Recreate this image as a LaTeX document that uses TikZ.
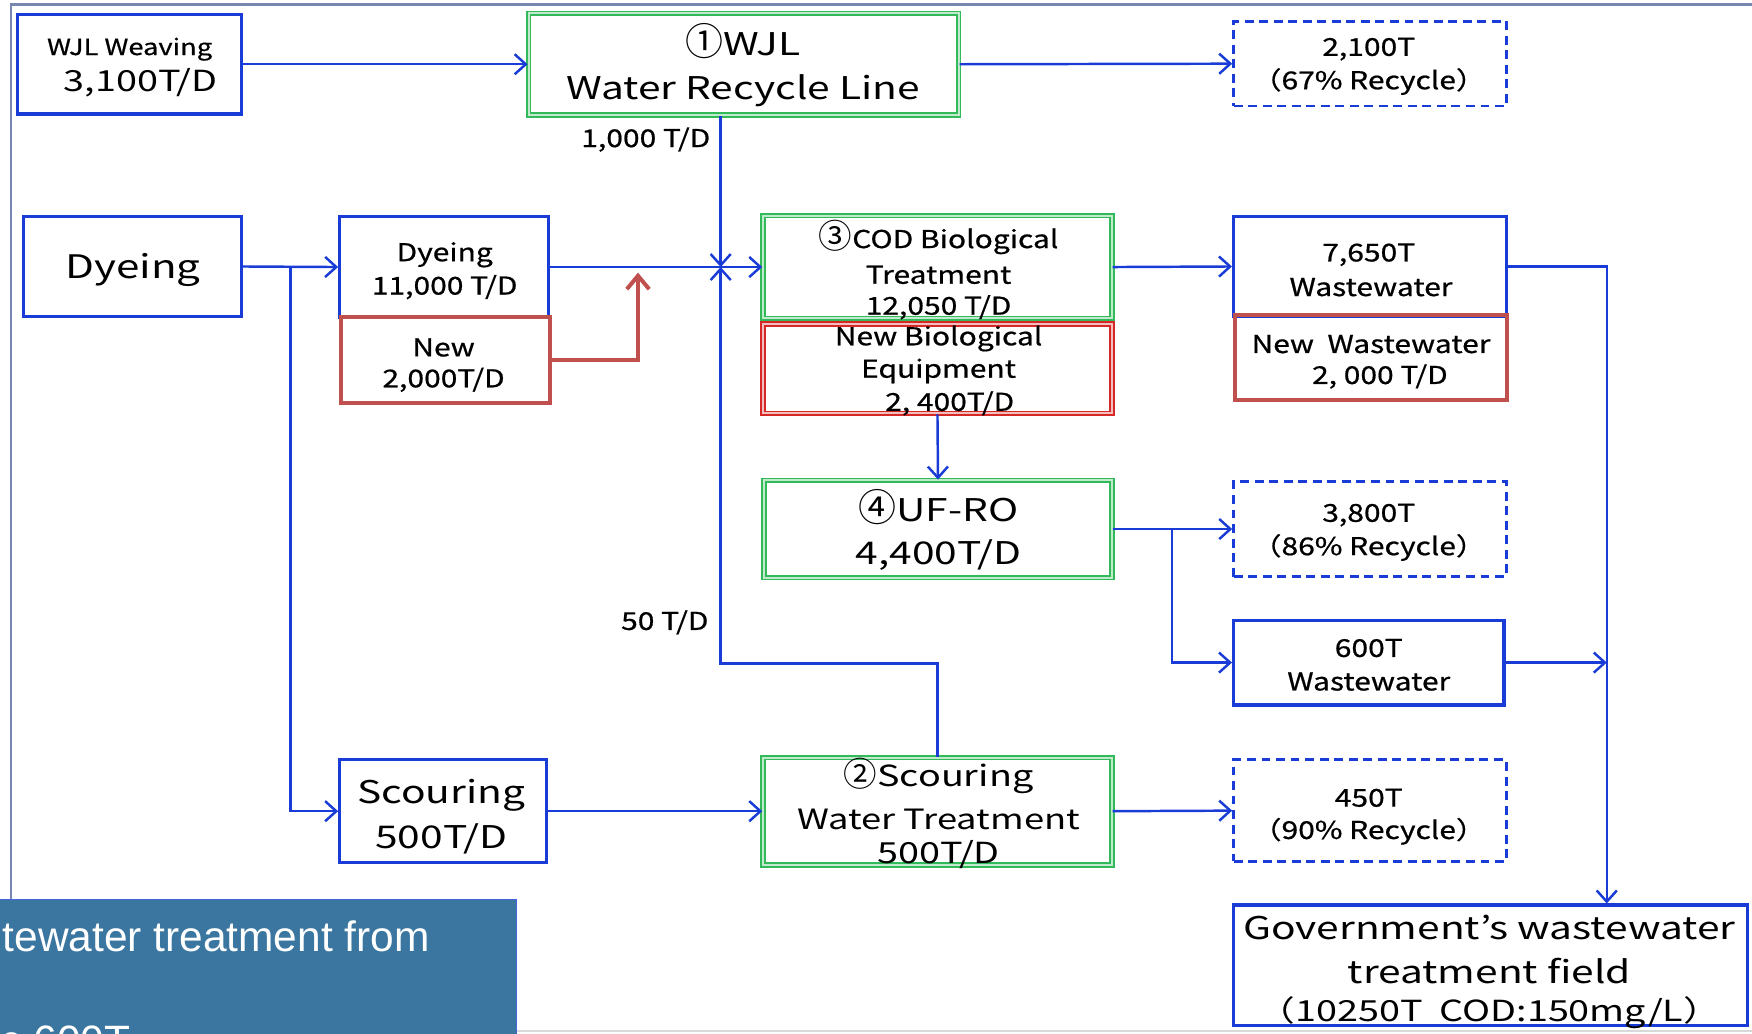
\documentclass[tikz,border=0pt]{standalone}
\usepackage{fontspec}
\setmainfont{Noto Sans CJK JP}[FakeStretch=1.22, FakeBold=0.7]
\newfontfamily\widef{Noto Sans CJK JP}[FakeStretch=1.3]
\newfontfamily\circf{Noto Sans CJK JP}
\newfontfamily\arialfont{Liberation Sans}
\usetikzlibrary{arrows.meta,fit}
\definecolor{lineblue}{RGB}{25,60,215}
\definecolor{boxgreen}{RGB}{50,185,90}
\definecolor{boxred}{RGB}{192,80,77}
\definecolor{brightred}{RGB}{215,40,40}
\definecolor{framec}{RGB}{120,135,175}
\definecolor{panelfill}{RGB}{58,118,160}
\newcommand\fsz[1]{\fontsize{#1}{#1}\selectfont}
\newcommand\circd[2]{{\circf\fsz{#1}#2}}
\tikzset{
  bbox/.style={draw=lineblue, line width=1.4pt, inner sep=0pt},
  dbox/.style={draw=lineblue, line width=1.2pt, dash pattern=on 4pt off 2.5pt, inner sep=0pt},
  gbox/.style={draw=boxgreen, double=boxgreen!30, double distance=0.9pt, line width=0.8pt, inner sep=0pt},
  rbox/.style={draw=boxred, line width=1.8pt, inner sep=0pt},
  rdbox/.style={draw=brightred, double=brightred!30, double distance=0.9pt, line width=0.8pt, inner sep=0pt},
  conn/.style={draw=lineblue, line width=1.1pt, -{Straight Barb[length=5pt,width=9pt,line width=1.1pt]}},
  redconn/.style={draw=boxred, line width=1.8pt, -{Straight Barb[length=6pt,width=10pt,line width=1.8pt]}},
  t/.style={inner sep=0pt, text=black},
  med/.style={t, font=\fsz{11}},
  big/.style={t, font=\widef\fsz{#1}},
  big/.default=14,
}
\begin{document}
\begin{tikzpicture}[x=0.5pt,y=-0.5pt]
\useasboundingbox (0,0) rectangle (1568,925);
\begin{scope}
\clip (0,0) rectangle (1568,925);
% frame
\draw[framec, line width=1pt] (10,805) -- (10,4) -- (1568,4);
\draw[black!15, line width=1pt] (462,923) -- (1568,923);

% boxes
\node[bbox, fit={(16,13) (216,102)}] (wjlw) {};
\node[gbox, fit={(473,12) (858,103)}] (wjl) {};
\node[dbox, fit={(1104,19) (1348,95)}] (r67) {};
\node[bbox, fit={(21,194) (216,283)}] (dye) {};
\node[bbox, fit={(304,194) (491,284)}] (dye2) {};
\node[rbox, fit={(305,284) (492,361)}] (new) {};
\node[gbox, fit={(683,193) (995,285)}] (cod) {};
\node[rdbox, fit={(683,290) (995,370)}] (nbio) {};
\node[bbox, fit={(1104,194) (1348,283)}] (w7650) {};
\node[rbox, fit={(1105,282) (1349,358)}] (nww) {};
\node[gbox, fit={(684,430) (995,517)}] (ufro) {};
\node[dbox, fit={(1104,431) (1348,516)}] (r86) {};
\node[bbox, fit={(1104,555) (1346,631)}] (w600) {};
\node[bbox, fit={(304,680) (489,772)}] (scour) {};
\node[gbox, fit={(683,678) (995,774)}] (scwt) {};
\node[dbox, fit={(1104,680) (1348,771)}] (r90) {};
\node[bbox, fit={(1104,810) (1564,918)}] (gov) {};

% junction coordinates
\coordinate (J) at (645,239);
\coordinate (B) at (260,239);
\coordinate (K) at (645,594);
\coordinate (R) at (571,244);
\coordinate (T) at (1438,0);
\coordinate (U) at (1049,0);

% connectors
\draw[conn] (wjlw.east) -- (wjl.west);
\draw[conn] (wjl.east) -- (r67.west);
\draw[conn] (wjl.south -| J) -- (J);
\draw[conn] (dye.east) -- (dye2.west);
\draw[conn] (B) |- (scour.west);
\draw[conn] (dye2.east) -- (cod.west);
\draw[conn] (scwt.north) |- (K) -- (J);
\draw[redconn] (new.east) -| (R);
\draw[conn] (cod.east) -- (w7650.west);
\draw[conn] (nbio.south) -- (ufro.north);
\draw[conn] (ufro.east) -- (r86.west);
\draw[conn] (ufro.east -| U) |- (w600.west);
\draw[conn] (w7650.east) -| (gov.north -| T);
\draw[conn] (w600.east) -- (w600.east -| T);
\draw[conn] (scour.east) -- (scwt.west);
\draw[conn] (scwt.east) -- (r90.west);

% texts
\node[t, font=\fsz{10}] (wjlwa) at (116,44) {WJL Weaving};
\node[big=13] (wjlwb) at (126,74) {3,100T/D};
\node[big, anchor=base] (wjla) at (665,50) {\circd{17}{①}WJL};
\node[big] (wjlb) at (665,81) {Water Recycle Line};
\node[med] (r67a) at (1225,44) {2,100T};
\node[med] (r67b) at (1225,73) {（67\% Recycle）};
\node[big=14.5] (dyea) at (119,242) {Dyeing};
\node[med] (dye2a) at (398,228) {Dyeing};
\node[med] (dye2b) at (398,257) {11,000 T/D};
\node[med] (newa) at (397,311) {New};
\node[med] (newb) at (397,340) {2,000T/D};
\node[med, anchor=base] (coda) at (840,222) {\circd{15}{③}COD Biological};
\node[med] (codb) at (840,246) {Treatment};
\node[med] (codc) at (840,275) {12,050 T/D};
\node[med] (nbioa) at (840,303) {New Biological};
\node[med] (nbiob) at (840,332) {Equipment};
\node[med] (nbioc) at (850,361) {2, 400T/D};
\node[med] (w7650a) at (1225,228) {7,650T};
\node[med] (w7650b) at (1227,257) {Wastewater};
\node[med] (nwwa) at (1227,308) {New\ \ Wastewater};
\node[med] (nwwb) at (1235,337) {2, 000 T/D};
\node[big, anchor=base] (ufroa) at (840,467) {\circd{17}{④}UF-RO};
\node[big] (ufrob) at (840,497) {4,400T/D};
\node[med] (r86a) at (1225,461) {3,800T};
\node[med] (r86b) at (1225,490) {（86\% Recycle）};
\node[med] (w600a) at (1225,580) {600T};
\node[med] (w600b) at (1225,610) {Wastewater};
\node[big] (scoura) at (395,712) {Scouring};
\node[big] (scourb) at (395,751) {500T/D};
\node[big=13, anchor=base] (scwta) at (840,704) {\circd{15}{②}Scouring};
\node[big=12.5] (scwtb) at (840,733) {Water Treatment};
\node[big=13] (scwtc) at (840,765) {500T/D};
\node[med] (r90a) at (1225,714) {450T};
\node[med] (r90b) at (1225,744) {（90\% Recycle）};
\node[big] (gova) at (1333,830) {Government’s wastewater};
\node[big] (govb) at (1333,869) {treatment field};
\node[big=13] (govc) at (1333,906) {（10250T\ \ COD:150mg/L）};
\node[med] (lab1) at (578,125) {1,000 T/D};
\node[med] (lab2) at (595,557) {50 T/D};

% bottom-left panel
\node[fill=panelfill, draw=lineblue!80, line width=0.6pt, inner sep=0pt, fit={(-5,805) (462,960)}] (panel) {};
\node[t, text=white, anchor=base west, font=\arialfont\fsz{19}] (pa) at (2,852) {tewater treatment from};
\node[t, text=white, anchor=base west, font=\arialfont\fsz{19}] (pb) at (0,945) {c 600T};
\end{scope}
\end{tikzpicture}
\end{document}
